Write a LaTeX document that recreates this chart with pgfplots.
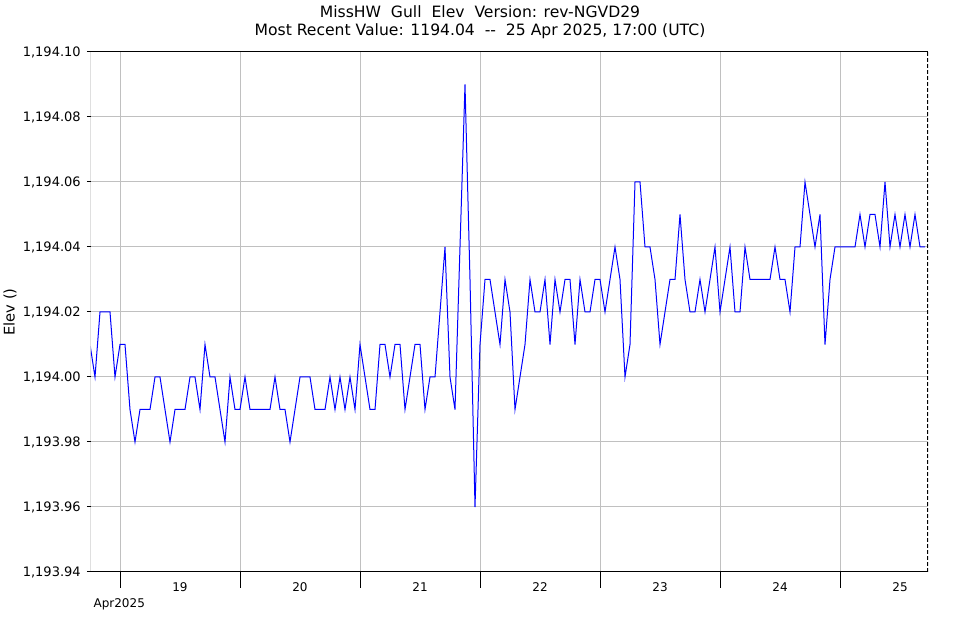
\documentclass[border=0pt]{standalone}
\usepackage{pgfplots}
\pgfplotsset{compat=1.18}
\usepackage{fontspec}
\setmainfont{DejaVu Sans}
\definecolor{gridgray}{RGB}{192,192,192}
\definecolor{lineblue}{RGB}{0,0,255}
\begin{document}
\fontsize{9.75pt}{11.5pt}\selectfont
\begin{tikzpicture}
\useasboundingbox (-68.25pt,-36pt) rectangle (652.5pt,429pt);
\begin{axis}[
  at={(0pt,0pt)}, anchor=south west,
  scale only axis, width=627.75pt, height=390pt,
  xmin=-5.8, xmax=161.6, ymin=1193.94, ymax=1194.10,
  axis line style={draw=none},
  tick align=outside,
  xtick pos=lower, ytick pos=left,
  xtick={0,24,48,72,96,120,144},
  xticklabels={,,,,,,},
  extra x ticks={12,36,60,84,108,132,156},
  extra x tick labels={19,20,21,22,23,24,25},
  extra x tick style={grid=none, xtick style={draw=none}},
  xtick style={draw=black, line width=0.75pt, /pgfplots/major tick length=12pt},
  ytick style={draw=black, line width=0.75pt, /pgfplots/major tick length=3pt},
  ytick={1193.94,1193.96,1193.98,1194.00,1194.02,1194.04,1194.06,1194.08,1194.10},
  scaled y ticks=false,
  yticklabel style={font=\fontsize{9.75pt}{11pt}\selectfont, /pgf/number format/fixed, /pgf/number format/fixed zerofill, /pgf/number format/precision=2, /pgf/number format/1000 sep={,}, /pgf/number format/assume math mode=true},
  xticklabel style={font=\fontsize{9pt}{11pt}\selectfont},
  xmajorgrids, ymajorgrids,
  major grid style={gridgray, line width=0.75pt},
  clip=true,
]
\addplot[lineblue, line width=0.75pt, line join=miter] coordinates {
(-6,1194.01) (-5,1194.00) (-4,1194.02) (-3,1194.02) (-2,1194.02) (-1,1194.00)
(0,1194.01) (1,1194.01) (2,1193.99) (3,1193.98) (4,1193.99) (5,1193.99)
(6,1193.99) (7,1194.00) (8,1194.00) (9,1193.99) (10,1193.98) (11,1193.99)
(12,1193.99) (13,1193.99) (14,1194.00) (15,1194.00) (16,1193.99) (17,1194.01)
(18,1194.00) (19,1194.00) (20,1193.99) (21,1193.98) (22,1194.00) (23,1193.99)
(24,1193.99) (25,1194.00) (26,1193.99) (27,1193.99) (28,1193.99) (29,1193.99)
(30,1193.99) (31,1194.00) (32,1193.99) (33,1193.99) (34,1193.98) (35,1193.99)
(36,1194.00) (37,1194.00) (38,1194.00) (39,1193.99) (40,1193.99) (41,1193.99)
(42,1194.00) (43,1193.99) (44,1194.00) (45,1193.99) (46,1194.00) (47,1193.99)
(48,1194.01) (49,1194.00) (50,1193.99) (51,1193.99) (52,1194.01) (53,1194.01)
(54,1194.00) (55,1194.01) (56,1194.01) (57,1193.99) (58,1194.00) (59,1194.01)
(60,1194.01) (61,1193.99) (62,1194.00) (63,1194.00) (64,1194.02) (65,1194.04)
(66,1194.00) (67,1193.99) (68,1194.04) (69,1194.09) (70,1194.03) (71,1193.96)
(72,1194.01) (73,1194.03) (74,1194.03) (75,1194.02) (76,1194.01) (77,1194.03)
(78,1194.02) (79,1193.99) (80,1194.00) (81,1194.01) (82,1194.03) (83,1194.02)
(84,1194.02) (85,1194.03) (86,1194.01) (87,1194.03) (88,1194.02) (89,1194.03)
(90,1194.03) (91,1194.01) (92,1194.03) (93,1194.02) (94,1194.02) (95,1194.03)
(96,1194.03) (97,1194.02) (98,1194.03) (99,1194.04) (100,1194.03) (101,1194.00)
(102,1194.01) (103,1194.06) (104,1194.06) (105,1194.04) (106,1194.04) (107,1194.03)
(108,1194.01) (109,1194.02) (110,1194.03) (111,1194.03) (112,1194.05) (113,1194.03)
(114,1194.02) (115,1194.02) (116,1194.03) (117,1194.02) (118,1194.03) (119,1194.04)
(120,1194.02) (121,1194.03) (122,1194.04) (123,1194.02) (124,1194.02) (125,1194.04)
(126,1194.03) (127,1194.03) (128,1194.03) (129,1194.03) (130,1194.03) (131,1194.04)
(132,1194.03) (133,1194.03) (134,1194.02) (135,1194.04) (136,1194.04) (137,1194.06)
(138,1194.05) (139,1194.04) (140,1194.05) (141,1194.01) (142,1194.03) (143,1194.04)
(144,1194.04) (145,1194.04) (146,1194.04) (147,1194.04) (148,1194.05) (149,1194.04)
(150,1194.05) (151,1194.05) (152,1194.04) (153,1194.06) (154,1194.04) (155,1194.05)
(156,1194.04) (157,1194.05) (158,1194.04) (159,1194.05) (160,1194.04) (161,1194.04)
};
\draw[black, line width=0.75pt] (rel axis cs:1,0) -- (rel axis cs:0,0) -- (rel axis cs:0,1) -- (rel axis cs:1,1);
\draw[black, line width=1.5pt, dash pattern=on 3pt off 1.5pt] (rel axis cs:1,1) -- (rel axis cs:1,0);
\end{axis}
\node[font=\fontsize{11.7pt}{13pt}\selectfont] at (291.75pt,420pt) {MissHW\ \ Gull\ \ Elev\ \ Version: rev-NGVD29};
\node[font=\fontsize{11.7pt}{13pt}\selectfont] at (291.75pt,405.75pt) {Most Recent Value: 1194.04\ \ -{}-\ \ 25 Apr 2025, 17:00 (UTC)};
\node[rotate=90, font=\fontsize{11pt}{13pt}\selectfont] at (-60.75pt,195pt) {Elev ()};
\node[anchor=west, font=\fontsize{9pt}{11pt}\selectfont] at (-1.5pt,-24pt) {Apr2025};
\end{tikzpicture}
\end{document}
